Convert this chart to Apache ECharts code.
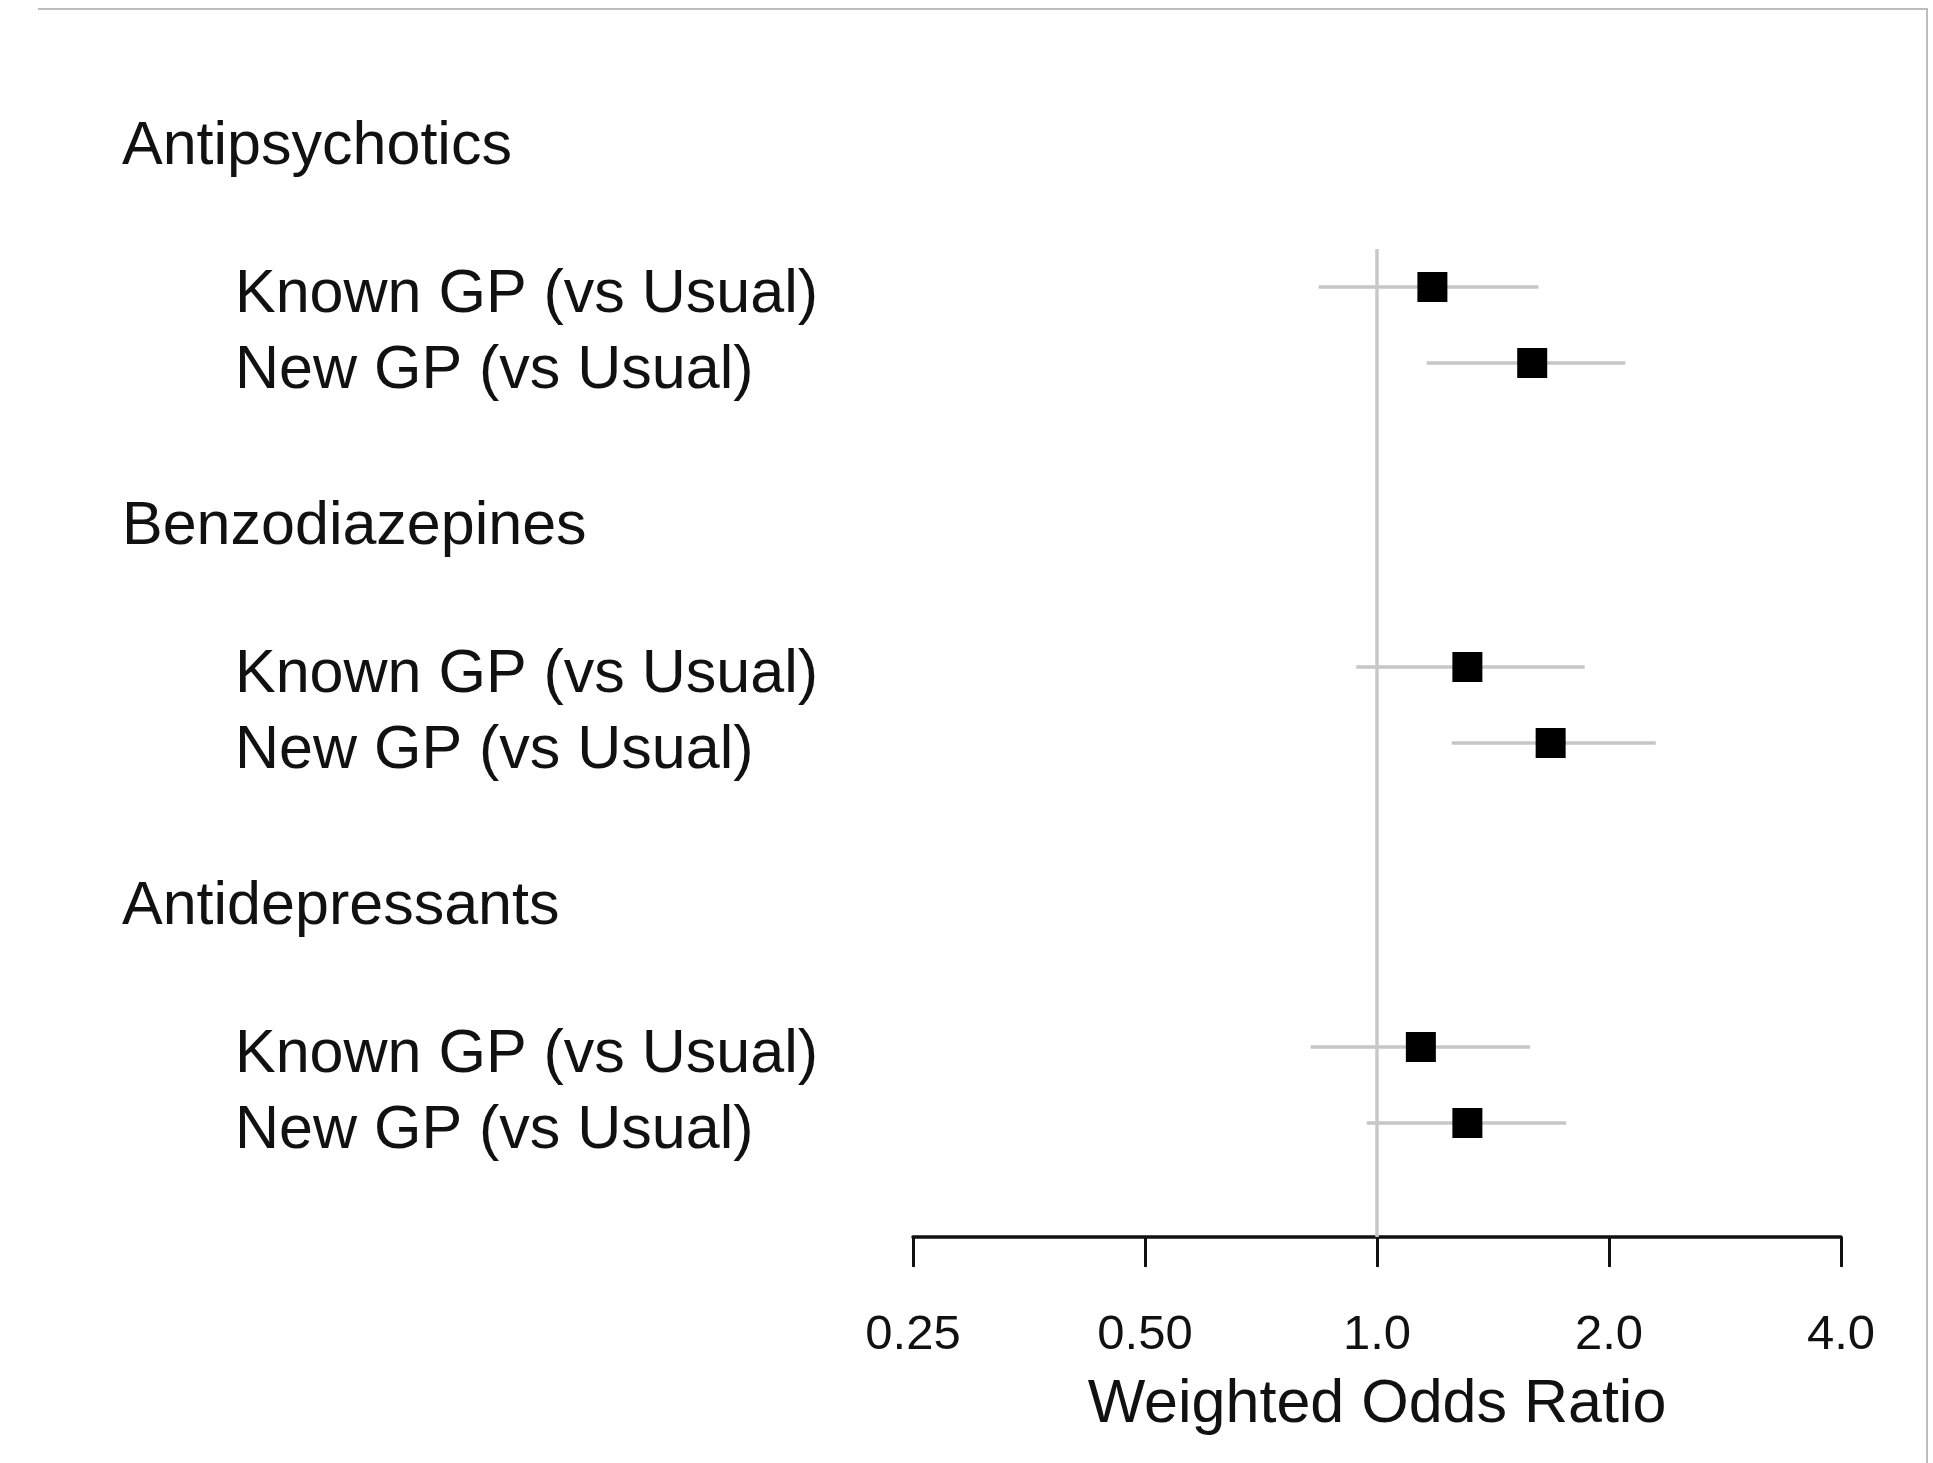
<!DOCTYPE html>
<html>
<head>
<meta charset="utf-8">
<title>Weighted Odds Ratio</title>
<script src="https://cdn.jsdelivr.net/npm/echarts@6/dist/echarts.min.js"></script>
<style>
  html, body { margin: 0; padding: 0; background: #ffffff; }
  #chart { width: 1933px; height: 1463px; }
</style>
</head>
<body>
<div id="chart"></div>
<script>
// Drug classes and comparisons
const groups = ['Antipsychotics', 'Benzodiazepines', 'Antidepressants'];
const comparisons = ['Known GP (vs Usual)', 'New GP (vs Usual)'];

// Weighted odds ratios with 95% CI, one row per group, in comparison order
const oddsRatio = [[1.18, 1.59], [1.31, 1.68], [1.14, 1.31]];
const ciLower   = [[0.84, 1.16], [0.94, 1.25], [0.82, 0.97]];
const ciUpper   = [[1.62, 2.10], [1.86, 2.30], [1.58, 1.76]];

// Axis tick labels (log2 scale from 0.25 to 4)
const xTickLabels = ['0.25', '0.50', '1.0', '2.0', '4.0'];
const nullValue = 1;

// Row layout: header, blank, two comparison rows, blank
const rowsPerGroup = 5;
const rowText = {};
const points = [];
const bars = [];
groups.forEach(function (g, gi) {
  const base = gi * rowsPerGroup;
  rowText[base] = '{h|' + g + '}';
  comparisons.forEach(function (c, ci) {
    const row = base + 2 + ci;
    rowText[row] = '{s|' + c + '}';
    points.push([oddsRatio[gi][ci], row]);
    bars.push([ciLower[gi][ci], ciUpper[gi][ci], row]);
  });
});
const lastRow = (groups.length - 1) * rowsPerGroup + 2 + comparisons.length - 1;
const yMin = -1;
const yMax = lastRow + 1.5;
const refTop = 1.5;

const textColor = '#111111';
const font = '"Liberation Sans", Arial, sans-serif';

const chart = echarts.init(document.getElementById('chart'), null, { renderer: 'canvas' });

chart.setOption({
  backgroundColor: '#ffffff',
  animation: false,
  graphic: [{
    type: 'polyline',
    shape: { points: [[38, 9], [1927, 9], [1927, 1463]] },
    style: { stroke: '#bdbdbd', lineWidth: 2, fill: null }
  }],
  grid: { left: 913, right: 92, top: 59, bottom: 226, containLabel: false },
  xAxis: {
    type: 'log',
    logBase: 2,
    min: 0.25,
    max: 4,
    position: 'bottom',
    name: 'Weighted Odds Ratio',
    nameLocation: 'middle',
    nameGap: 138,
    nameTextStyle: { fontSize: 61, color: textColor, fontFamily: font },
    axisLine: { show: true, onZero: false, lineStyle: { color: '#111111', width: 3.5 } },
    axisTick: { show: true, length: 30, lineStyle: { color: '#111111', width: 3 } },
    axisLabel: {
      margin: 74,
      fontSize: 49,
      color: textColor,
      fontFamily: font,
      formatter: function (v, i) { return xTickLabels[i] !== undefined ? xTickLabels[i] : ''; }
    },
    splitLine: { show: false },
    minorTick: { show: false }
  },
  yAxis: {
    type: 'value',
    inverse: true,
    min: yMin,
    max: yMax,
    interval: 1,
    axisLine: { show: false },
    axisTick: { show: false },
    splitLine: { show: false },
    axisLabel: {
      showMaxLabel: false,
      align: 'left',
      margin: 913 - 122,
      color: textColor,
      fontFamily: font,
      fontSize: 61,
      formatter: function (v) { return rowText[v] || ''; },
      rich: {
        h: { fontSize: 61, color: textColor, fontFamily: font, padding: [24, 0, 0, 0] },
        s: { fontSize: 61, color: textColor, fontFamily: font, padding: [16, 0, 0, 113] }
      }
    }
  },
  series: [
    {
      // confidence interval whiskers
      type: 'custom',
      data: bars,
      encode: { x: [0, 1], y: 2 },
      renderItem: function (params, api) {
        const y = api.value(2);
        const p1 = api.coord([api.value(0), y]);
        const p2 = api.coord([api.value(1), y]);
        return {
          type: 'line',
          shape: { x1: p1[0], y1: p1[1], x2: p2[0], y2: p2[1] },
          style: { stroke: '#c6c6c6', lineWidth: 3.5 }
        };
      },
      markLine: {
        silent: true,
        symbol: 'none',
        label: { show: false },
        lineStyle: { color: '#c8c8c8', width: 3.5, type: 'solid' },
        data: [[{ coord: [nullValue, refTop] }, { coord: [nullValue, yMax] }]]
      },
      z: 2
    },
    {
      // point estimates
      type: 'scatter',
      data: points,
      symbol: 'rect',
      symbolSize: 30,
      itemStyle: { color: '#000000', opacity: 1 },
      z: 3
    }
  ]
});
</script>
</body>
</html>
